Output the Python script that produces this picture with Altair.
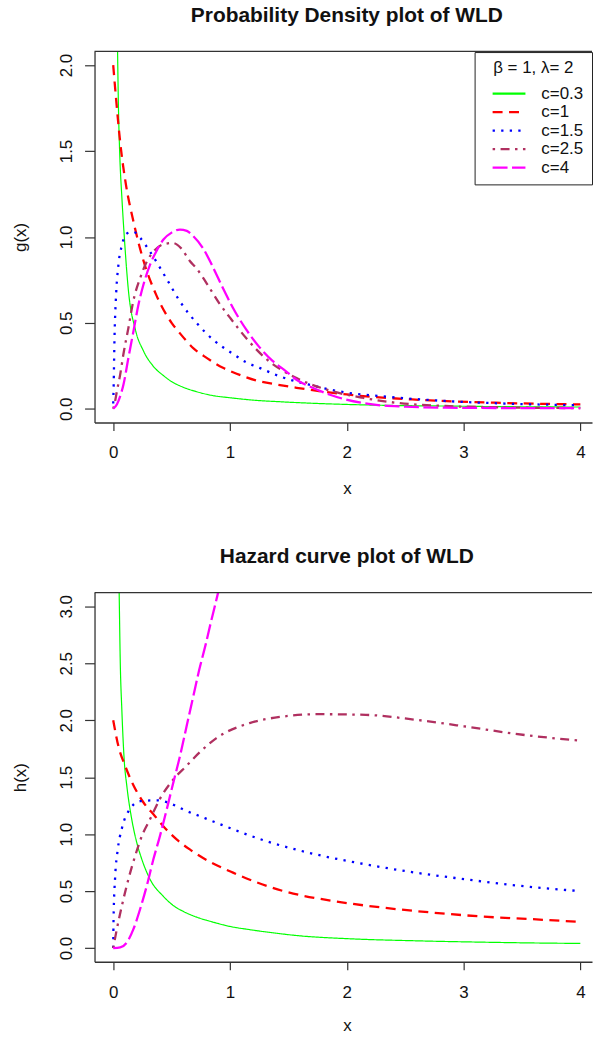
import altair as alt
import pandas as pd

FONT = "Liberation Sans"

SERIES = ["c=0.3", "c=1", "c=1.5", "c=2.5", "c=4"]
COLORS = ["#00FF00", "#FF0000", "#0000FF", "#B03060", "#FF00FF"]
DASHES = [[1, 0], [10, 6.5], [2.3, 6.3], [2.5, 5.5, 9, 5.5], [15, 4.5]]

# ---- density g(x), beta = 1, lambda = 2 ----
g_x_c03 = [0.035, 0.045, 0.055, 0.075, 0.095, 0.13, 0.19, 0.26, 0.34, 0.43, 0.5, 0.6,
           0.71, 0.85, 1.0, 1.2, 1.42, 1.7, 2.0, 2.4, 2.8, 3.2, 3.6, 4.0]
g_y_c03 = [2.2, 1.75, 1.5, 1.22, 1.0, 0.69, 0.46, 0.335, 0.25, 0.193, 0.158, 0.125,
           0.1, 0.077, 0.064, 0.05, 0.041, 0.032, 0.025, 0.019, 0.016, 0.013, 0.011, 0.01]

g_x_c1 = [0, 0.025, 0.06, 0.11, 0.17, 0.26, 0.37, 0.5, 0.57, 0.69, 0.8, 0.94, 1.0,
          1.25, 1.4, 1.57, 2.0, 2.56, 3.27, 4.0]
g_y_c1 = [2.0, 1.8, 1.55, 1.3, 1.1, 0.86, 0.66, 0.5, 0.44, 0.35, 0.296, 0.238, 0.22,
          0.16, 0.141, 0.122, 0.083, 0.054, 0.035, 0.025]

g_x_c15 = [0, 0.004, 0.011, 0.023, 0.045, 0.074, 0.117, 0.173, 0.23, 0.315, 0.458, 0.571,
           0.713, 0.855, 1.026, 1.14, 1.253, 1.42, 1.708, 1.99, 2.276, 2.845, 3.41, 4.0]
g_y_c15 = [0.03, 0.14, 0.41, 0.64, 0.84, 0.95, 1.02, 1.03, 0.995, 0.914, 0.755, 0.625,
           0.5, 0.402, 0.319, 0.27, 0.238, 0.19, 0.135, 0.095, 0.074, 0.045, 0.029, 0.02]

g_x_c25 = [0, 0.015, 0.031, 0.06, 0.088, 0.13, 0.173, 0.23, 0.287, 0.344, 0.429, 0.51,
           0.58, 0.656, 0.713, 0.8, 0.912, 1.0, 1.14, 1.31, 1.566, 1.85, 2.134, 2.42,
           2.845, 3.41, 4.0]
g_y_c25 = [0.0, 0.04, 0.1, 0.2, 0.32, 0.47, 0.63, 0.759, 0.856, 0.914, 0.957, 0.965,
           0.935, 0.86, 0.817, 0.73, 0.61, 0.53, 0.41, 0.29, 0.18, 0.107, 0.064, 0.035,
           0.016, 0.007, 0.004]

g_x_c4 = [0, 0.031, 0.06, 0.088, 0.13, 0.173, 0.216, 0.258, 0.315, 0.372, 0.43, 0.5,
          0.571, 0.63, 0.685, 0.77, 0.85, 0.94, 1.026, 1.14, 1.25, 1.367, 1.48, 1.566,
          1.708, 1.85, 1.99, 2.22, 2.5, 2.845, 3.4, 4.0]
g_y_c4 = [0.0, 0.025, 0.074, 0.141, 0.296, 0.45, 0.605, 0.72, 0.837, 0.92, 0.985, 1.025,
          1.043, 1.035, 1.005, 0.933, 0.83, 0.701, 0.586, 0.46, 0.36, 0.277, 0.218, 0.17,
          0.122, 0.083, 0.054, 0.025, 0.012, 0.006, 0.004, 0.003]

# ---- hazard h(x), beta = 1, lambda = 2 ----
h_x_c03 = [0.045, 0.051, 0.06, 0.074, 0.094, 0.117, 0.159, 0.202, 0.245, 0.315, 0.429,
           0.514, 0.6, 0.742, 0.827, 1.0, 1.168, 1.4, 1.594, 2.02, 2.59, 3.16, 3.6, 4.0]
h_y_c03 = [3.5, 3.12, 2.53, 2.09, 1.654, 1.42, 1.129, 0.925, 0.779, 0.605, 0.455,
           0.374, 0.322, 0.262, 0.236, 0.19, 0.162, 0.13, 0.108, 0.082, 0.064, 0.052,
           0.045, 0.041]

h_x_c1 = [0, 0.045, 0.102, 0.173, 0.258, 0.358, 0.429, 0.543, 0.656, 0.742, 1.026,
          1.452, 1.878, 2.304, 2.73, 3.157, 3.583, 4.0]
h_y_c1 = [2.0, 1.77, 1.6, 1.43, 1.28, 1.158, 1.07, 0.954, 0.866, 0.808, 0.662,
          0.502, 0.414, 0.356, 0.312, 0.277, 0.254, 0.23]

h_x_c15 = [0, 0.003, 0.017, 0.037, 0.074, 0.13, 0.23, 0.372, 0.543, 0.6, 0.742, 0.884,
           1.31, 1.737, 2.163, 2.59, 3.015, 3.44, 4.0]
h_y_c15 = [0.0, 0.254, 0.633, 0.85, 1.05, 1.2, 1.289, 1.297, 1.245, 1.216, 1.158, 1.1,
           0.939, 0.822, 0.735, 0.662, 0.604, 0.551, 0.5]

h_x_c25 = [0, 0.031, 0.074, 0.13, 0.1875, 0.245, 0.315, 0.4, 0.514, 0.628, 0.742, 0.884,
           1.168, 1.452, 1.737, 2.163, 2.59, 3.015, 3.44, 4.0]
h_y_c25 = [0.0, 0.166, 0.37, 0.604, 0.808, 0.983, 1.13, 1.31, 1.479, 1.6, 1.72, 1.843,
           1.975, 2.032, 2.053, 2.047, 2.004, 1.945, 1.881, 1.82]

h_x_c4 = [0, 0.06, 0.117, 0.173, 0.23, 0.287, 0.344, 0.4, 0.458, 0.514, 0.571, 0.628,
          0.685, 0.736, 0.793, 0.841, 0.898, 0.93]
h_y_c4 = [0.0, 0.006, 0.05, 0.166, 0.341, 0.545, 0.779, 0.983, 1.216, 1.45, 1.682,
          1.945, 2.207, 2.44, 2.67, 2.88, 3.12, 3.27]

X_TICKS = [0, 1, 2, 3, 4]
G_TICKS = [0, 0.5, 1.0, 1.5, 2.0]
H_TICKS = [0, 0.5, 1.0, 1.5, 2.0, 2.5, 3.0]

PLOT_W = 500
X_MID = 253.6  # centre of the full plotting region


def long_frame(xs_list, ys_list):
    rows = []
    for name, xs, ys in zip(SERIES, xs_list, ys_list):
        for x, y in zip(xs, ys):
            rows.append({"c": name, "x": x, "y": y})
    return pd.DataFrame(rows)


density = long_frame([g_x_c03, g_x_c1, g_x_c15, g_x_c25, g_x_c4],
                     [g_y_c03, g_y_c1, g_y_c15, g_y_c25, g_y_c4])
hazard = long_frame([h_x_c03, h_x_c1, h_x_c15, h_x_c25, h_x_c4],
                    [h_y_c03, h_y_c1, h_y_c15, h_y_c25, h_y_c4])


def panel(df, title, ytitle, ytop, yticks, height, legend_x, legend_y, xtitle_y):
    # a wide horizontal stroke as the key symbol keeps rows compact
    legend = alt.Legend(
        title="β = 1, λ= 2", orient="none", legendX=legend_x, legendY=legend_y,
        direction="vertical", fillColor="white", strokeColor="#222", padding=8,
        cornerRadius=0, titleFont=FONT, titleFontSize=17, titleFontWeight="normal",
        titleColor="#111", titleAnchor="middle", titlePadding=7.2,
        labelFont=FONT, labelFontSize=17, labelColor="#111", labelOffset=23,
        symbolType="M-2,0H2", symbolSize=272, symbolStrokeWidth=2.3, symbolOffset=17.1,
        rowPadding=0.6,
    )
    x_axis = alt.Axis(
        values=X_TICKS, format="d", grid=False, tickSize=8, labelPadding=14.5,
        labelFlush=False, labelOverlap=False, title="x", titleX=X_MID, titleY=xtitle_y,
        titleAlign="center", titleBaseline="alphabetic", titleFont=FONT,
        titleFontSize=17, titleFontWeight="normal", titleColor="#111",
    )
    y_axis = alt.Axis(
        values=yticks, format=".1f", grid=False, tickSize=10, labelPadding=9.4,
        labelAngle=270, labelAlign="center", labelBaseline="bottom",
        labelOverlap=False, labelFlush=False,
        title=ytitle, titleX=-69, titleY=height / 2, titleAngle=270,
        titleAlign="center", titleBaseline="alphabetic", titleFont=FONT,
        titleFontSize=17, titleFontWeight="normal", titleColor="#111",
    )
    pad = 0.04 * ytop
    base = alt.Chart(df).encode(
        x=alt.X("x:Q", scale=alt.Scale(domain=[-0.16, 4.1], nice=False, zero=False),
                axis=x_axis),
        y=alt.Y("y:Q", scale=alt.Scale(domain=[-pad, ytop + pad], nice=False, zero=False),
                axis=y_axis),
        color=alt.Color("c:N", sort=SERIES,
                        scale=alt.Scale(domain=SERIES, range=COLORS), legend=legend),
        strokeDash=alt.StrokeDash("c:N", sort=SERIES,
                                  scale=alt.Scale(domain=SERIES, range=DASHES),
                                  legend=legend),
    )
    thin = base.transform_filter(alt.datum.c == "c=0.3").mark_line(
        clip=True, strokeWidth=1.2, interpolate="monotone")
    thick = base.transform_filter(alt.datum.c != "c=0.3").mark_line(
        clip=True, strokeWidth=2.3, interpolate="monotone")

    one = pd.DataFrame({"t": [title]})
    top_border = alt.Chart(one).mark_rule(color="#333", strokeWidth=1.3).encode(
        x=alt.value(0), x2=alt.value(PLOT_W), y=alt.value(0))
    heading = alt.Chart(one).mark_text(
        font=FONT, fontSize=21, fontWeight="bold", align="center",
        baseline="alphabetic", color="#111",
    ).encode(x=alt.value(X_MID), y=alt.value(-29.3), text="t:N")

    return alt.layer(thin, thick, top_border, heading).properties(
        width=PLOT_W, height=height)


top = panel(density, "Probability Density plot of WLD", "g(x)", 2.0, G_TICKS,
            373, 382, 0.7, 71)
bottom = panel(hazard, "Hazard curve plot of WLD", "h(x)", 3.0, H_TICKS,
               371, 382, 1.7, 69)

chart = alt.vconcat(top, bottom, spacing=49).properties(
    padding={"left": 11, "top": 2, "right": 0, "bottom": 0},
    background="white",
).configure_view(stroke="transparent").configure_axis(
    labelFont=FONT, labelFontSize=17, labelColor="#111",
    tickColor="#333", tickWidth=1.2, domainColor="#333", domainWidth=1.3,
)

chart.save("out.html", embed_options={"renderer": "svg", "actions": False})
